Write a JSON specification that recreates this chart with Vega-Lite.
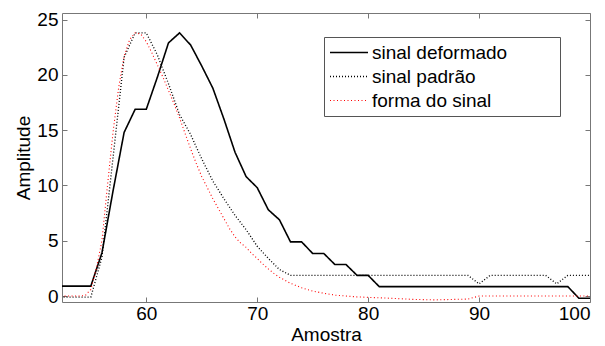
{
  "$schema": "https://vega.github.io/schema/vega-lite/v6.json",
  "width": 528,
  "height": 289,
  "autosize": "none",
  "padding": {"left": 62, "top": 13, "right": 15, "bottom": 44},
  "background": "white",
  "config": {
    "view": {"stroke": null},
    "font": "Liberation Sans",
    "axis": {
      "domainColor": "#777777",
      "tickColor": "#777777",
      "tickSize": -5,
      "labelFontSize": 19,
      "labelColor": "#000000",
      "labelFont": "Liberation Sans",
      "titleFont": "Liberation Sans",
      "titleFontSize": 19,
      "titleFontWeight": "normal",
      "titleColor": "#000000",
      "grid": false
    }
  },
  "data": {
    "values": [
      {"s": "sinal deformado", "x": 52, "y": 0.9},
      {"s": "sinal deformado", "x": 53, "y": 0.9},
      {"s": "sinal deformado", "x": 54, "y": 0.9},
      {"s": "sinal deformado", "x": 55, "y": 0.9},
      {"s": "sinal deformado", "x": 56, "y": 3.9},
      {"s": "sinal deformado", "x": 57, "y": 9.5},
      {"s": "sinal deformado", "x": 58, "y": 14.8},
      {"s": "sinal deformado", "x": 59, "y": 16.9},
      {"s": "sinal deformado", "x": 60, "y": 16.9},
      {"s": "sinal deformado", "x": 61, "y": 19.8},
      {"s": "sinal deformado", "x": 62, "y": 22.9},
      {"s": "sinal deformado", "x": 63, "y": 23.8},
      {"s": "sinal deformado", "x": 64, "y": 22.7},
      {"s": "sinal deformado", "x": 65, "y": 20.8},
      {"s": "sinal deformado", "x": 66, "y": 18.8},
      {"s": "sinal deformado", "x": 67, "y": 16.0},
      {"s": "sinal deformado", "x": 68, "y": 13.0},
      {"s": "sinal deformado", "x": 69, "y": 10.8},
      {"s": "sinal deformado", "x": 70, "y": 9.8},
      {"s": "sinal deformado", "x": 71, "y": 7.8},
      {"s": "sinal deformado", "x": 72, "y": 6.9},
      {"s": "sinal deformado", "x": 73, "y": 4.9},
      {"s": "sinal deformado", "x": 74, "y": 4.9},
      {"s": "sinal deformado", "x": 75, "y": 3.85},
      {"s": "sinal deformado", "x": 76, "y": 3.85},
      {"s": "sinal deformado", "x": 77, "y": 2.85},
      {"s": "sinal deformado", "x": 78, "y": 2.85},
      {"s": "sinal deformado", "x": 79, "y": 1.87},
      {"s": "sinal deformado", "x": 80, "y": 1.87},
      {"s": "sinal deformado", "x": 81, "y": 0.85},
      {"s": "sinal deformado", "x": 85, "y": 0.85},
      {"s": "sinal deformado", "x": 90, "y": 0.85},
      {"s": "sinal deformado", "x": 95, "y": 0.85},
      {"s": "sinal deformado", "x": 98, "y": 0.85},
      {"s": "sinal deformado", "x": 99, "y": -0.2},
      {"s": "sinal deformado", "x": 100, "y": -0.2},

      {"s": "sinal padrão", "x": 52, "y": -0.1},
      {"s": "sinal padrão", "x": 53, "y": -0.1},
      {"s": "sinal padrão", "x": 54, "y": -0.1},
      {"s": "sinal padrão", "x": 55, "y": -0.1},
      {"s": "sinal padrão", "x": 56, "y": 3.5},
      {"s": "sinal padrão", "x": 57, "y": 12.5},
      {"s": "sinal padrão", "x": 58, "y": 21.6},
      {"s": "sinal padrão", "x": 59, "y": 23.8},
      {"s": "sinal padrão", "x": 60, "y": 23.8},
      {"s": "sinal padrão", "x": 61, "y": 21.8},
      {"s": "sinal padrão", "x": 62, "y": 19.2},
      {"s": "sinal padrão", "x": 63, "y": 16.4},
      {"s": "sinal padrão", "x": 64, "y": 14.6},
      {"s": "sinal padrão", "x": 65, "y": 12.4},
      {"s": "sinal padrão", "x": 66, "y": 10.4},
      {"s": "sinal padrão", "x": 67, "y": 8.8},
      {"s": "sinal padrão", "x": 68, "y": 7.3},
      {"s": "sinal padrão", "x": 69, "y": 6.0},
      {"s": "sinal padrão", "x": 70, "y": 4.5},
      {"s": "sinal padrão", "x": 71, "y": 3.4},
      {"s": "sinal padrão", "x": 72, "y": 2.4},
      {"s": "sinal padrão", "x": 73, "y": 1.87},
      {"s": "sinal padrão", "x": 80, "y": 1.87},
      {"s": "sinal padrão", "x": 89, "y": 1.87},
      {"s": "sinal padrão", "x": 90, "y": 1.1},
      {"s": "sinal padrão", "x": 91, "y": 1.87},
      {"s": "sinal padrão", "x": 96, "y": 1.87},
      {"s": "sinal padrão", "x": 97, "y": 1.1},
      {"s": "sinal padrão", "x": 98, "y": 1.87},
      {"s": "sinal padrão", "x": 100, "y": 1.87},

      {"s": "forma do sinal", "x": 52, "y": 0},
      {"s": "forma do sinal", "x": 54, "y": 0},
      {"s": "forma do sinal", "x": 54.5, "y": 0.05},
      {"s": "forma do sinal", "x": 55, "y": 0.6},
      {"s": "forma do sinal", "x": 55.5, "y": 2.5},
      {"s": "forma do sinal", "x": 56, "y": 5.0},
      {"s": "forma do sinal", "x": 56.5, "y": 10.0},
      {"s": "forma do sinal", "x": 57, "y": 14.8},
      {"s": "forma do sinal", "x": 57.5, "y": 18.8},
      {"s": "forma do sinal", "x": 58, "y": 21.7},
      {"s": "forma do sinal", "x": 58.5, "y": 23.2},
      {"s": "forma do sinal", "x": 59, "y": 23.8},
      {"s": "forma do sinal", "x": 59.5, "y": 23.7},
      {"s": "forma do sinal", "x": 60, "y": 23.0},
      {"s": "forma do sinal", "x": 60.5, "y": 22.0},
      {"s": "forma do sinal", "x": 61, "y": 20.9},
      {"s": "forma do sinal", "x": 61.5, "y": 19.8},
      {"s": "forma do sinal", "x": 62, "y": 18.6},
      {"s": "forma do sinal", "x": 62.5, "y": 17.4},
      {"s": "forma do sinal", "x": 63, "y": 16.1},
      {"s": "forma do sinal", "x": 63.5, "y": 14.7},
      {"s": "forma do sinal", "x": 64, "y": 13.3},
      {"s": "forma do sinal", "x": 64.5, "y": 12.0},
      {"s": "forma do sinal", "x": 65, "y": 10.8},
      {"s": "forma do sinal", "x": 65.5, "y": 9.8},
      {"s": "forma do sinal", "x": 66, "y": 8.8},
      {"s": "forma do sinal", "x": 66.5, "y": 7.9},
      {"s": "forma do sinal", "x": 67, "y": 7.0},
      {"s": "forma do sinal", "x": 67.5, "y": 6.1},
      {"s": "forma do sinal", "x": 68, "y": 5.35},
      {"s": "forma do sinal", "x": 68.5, "y": 4.8},
      {"s": "forma do sinal", "x": 69, "y": 4.4},
      {"s": "forma do sinal", "x": 69.5, "y": 3.85},
      {"s": "forma do sinal", "x": 70, "y": 3.4},
      {"s": "forma do sinal", "x": 70.5, "y": 2.9},
      {"s": "forma do sinal", "x": 71, "y": 2.45},
      {"s": "forma do sinal", "x": 71.5, "y": 2.05},
      {"s": "forma do sinal", "x": 72, "y": 1.7},
      {"s": "forma do sinal", "x": 73, "y": 1.15},
      {"s": "forma do sinal", "x": 74, "y": 0.75},
      {"s": "forma do sinal", "x": 75, "y": 0.45},
      {"s": "forma do sinal", "x": 76, "y": 0.25},
      {"s": "forma do sinal", "x": 77, "y": 0.08},
      {"s": "forma do sinal", "x": 78, "y": 0},
      {"s": "forma do sinal", "x": 79, "y": -0.08},
      {"s": "forma do sinal", "x": 80, "y": -0.12},
      {"s": "forma do sinal", "x": 82, "y": -0.2},
      {"s": "forma do sinal", "x": 84, "y": -0.3},
      {"s": "forma do sinal", "x": 86, "y": -0.35},
      {"s": "forma do sinal", "x": 88, "y": -0.3},
      {"s": "forma do sinal", "x": 89, "y": -0.27},
      {"s": "forma do sinal", "x": 90, "y": 0},
      {"s": "forma do sinal", "x": 95, "y": 0},
      {"s": "forma do sinal", "x": 100, "y": 0}
    ]
  },
  "layer": [
    {
      "mark": {"type": "line", "clip": true},
      "encoding": {
        "x": {
          "field": "x", "type": "quantitative",
          "scale": {"domain": [52.4, 100], "nice": false, "zero": false},
          "axis": {"orient": "bottom", "values": [60, 70, 80, 90, 100], "title": "Amostra", "labelPadding": 7, "titlePadding": 2}
        },
        "y": {
          "field": "y", "type": "quantitative",
          "scale": {"domain": [-0.54, 25.6], "nice": false, "zero": false},
          "axis": {"orient": "left", "values": [0, 5, 10, 15, 20, 25], "title": "Amplitude", "labelPadding": 9, "titlePadding": 3}
        },
        "color": {
          "field": "s", "type": "nominal",
          "scale": {"domain": ["sinal deformado", "sinal padrão", "forma do sinal"], "range": ["#000000", "#000000", "#ff0000"]},
          "legend": {
            "orient": "none", "legendX": 262, "legendY": 24,
            "title": null,
            "strokeColor": "#555555",
            "fillColor": "white",
            "padding": 5,
            "rowPadding": 3,
            "labelFontSize": 19,
            "labelFont": "Liberation Sans",
            "labelColor": "#000000",
            "labelOffset": 22,
            "labelLimit": 400,
            "symbolType": "M-1,0H3",
            "symbolSize": 361,
            "labelExpr": "datum.label + '\u2800 \u2800\u2800'"
          }
        },
        "strokeDash": {
          "field": "s", "type": "nominal",
          "scale": {"domain": ["sinal deformado", "sinal padrão", "forma do sinal"], "range": [[1, 0], [1, 2], [1, 2.5]]}
        },
        "strokeWidth": {
          "field": "s", "type": "nominal",
          "scale": {"domain": ["sinal deformado", "sinal padrão", "forma do sinal"], "range": [1.6, 1.1, 1.1]}
        }
      }
    },
    {
      "mark": {"type": "line", "opacity": 0},
      "encoding": {
        "x": {
          "field": "x", "type": "quantitative",
          "scale": {"domain": [52.4, 100], "nice": false, "zero": false},
          "axis": {"orient": "top", "values": [60, 70, 80, 90, 100], "labels": false, "title": null}
        },
        "y": {
          "field": "y", "type": "quantitative",
          "scale": {"domain": [-0.54, 25.6], "nice": false, "zero": false},
          "axis": {"orient": "right", "values": [0, 5, 10, 15, 20, 25], "labels": false, "title": null}
        }
      }
    }
  ],
  "resolve": {"axis": {"x": "independent", "y": "independent"}}
}
